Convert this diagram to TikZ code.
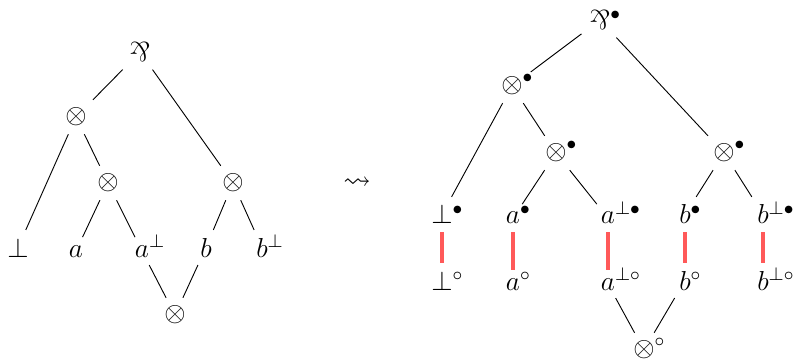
\documentclass[12pt,tikz,border=0pt]{standalone}
\usepackage{amssymb}
\usepackage{graphicx}
\usepackage{tikz}

\newcommand{\parrsym}{\mathord{\rotatebox[origin=c]{180}{$\&$}}}
\newcommand{\withsup}[2]{#1\rlap{\smash{$^{#2}$}}}

\tikzset{
  leaf/.style={anchor=base},
  axlink/.style={red!65, line width=1.6pt},
}

\begin{document}
\begin{tikzpicture}[x=0.01538cm, y=-0.01538cm, inner sep=3.33pt]
\useasboundingbox (0,0) rectangle (795,361);
% Left tree
\node (lpar) at (140,52) {$\parrsym$};
\node (lt1) at (76,117) {$\otimes$};
\node (lt2) at (108,183) {$\otimes$};
\node (lt3) at (233,183) {$\otimes$};
\node (lbot) at (175,315) {$\otimes$};
\foreach \i/\x/\base/\up in {1/18/\bot/, 2/76/a/, 3/142/a/\bot, 4/206/b/, 5/262/b/\bot} {
    \node[leaf] (l\i) at (\x,257) {$\withsup{\base}{\up}$};
}
\draw (lpar) -- (lt1);
\draw (lpar) -- (lt3);
\draw (lt1) -- (l1);
\draw (lt1) -- (lt2);
\draw (lt2) -- (l2);
\draw (lt2) -- (l3);
\draw (lt3) -- (l4);
\draw (lt3) -- (l5);
\draw (l3) -- (lbot);
\draw (l4) -- (lbot);
% Rewrite arrow
\node (to) at (357,183) {$\leadsto$};
% Right tree
\node (rpar) at (600,20) {$\withsup{\parrsym}{\bullet}$};
\node (rt1) at (512,86) {$\withsup{\otimes}{\bullet}$};
\node (rt2) at (556,153) {$\withsup{\otimes}{\bullet}$};
\node (rt3) at (724,153) {$\withsup{\otimes}{\bullet}$};
\node (rbot) at (644,350) {$\withsup{\otimes}{\circ}$};
% Leaves and axiom links
\foreach \i/\x/\base/\up in {1/442/\bot/, 2/513/a/, 3/608/a/\bot, 4/685/b/, 5/763/b/\bot} {
    \node[leaf] (ru\i) at (\x,224) {$\withsup{\base}{\up\bullet}$};
    \node[leaf] (rd\i) at (\x,290) {$\withsup{\base}{\up\circ}$};
    \draw[axlink] (ru\i) -- (rd\i);
}
\draw (rpar) -- (rt1);
\draw (rpar) -- (rt3);
\draw (rt1) -- (ru1);
\draw (rt1) -- (rt2);
\draw (rt2) -- (ru2);
\draw (rt2) -- (ru3);
\draw (rt3) -- (ru4);
\draw (rt3) -- (ru5);
\draw (rd3) -- (rbot);
\draw (rd4) -- (rbot);
\end{tikzpicture}
\end{document}
